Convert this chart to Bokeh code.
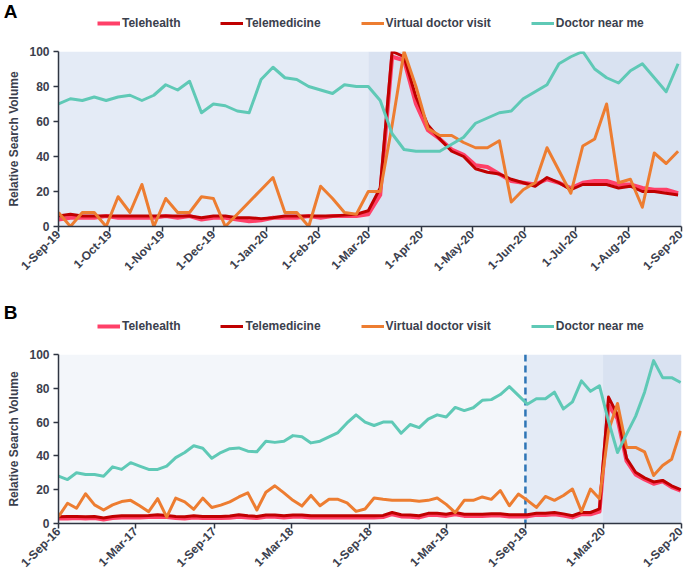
import pandas as pd
from math import pi
from bokeh.plotting import figure
from bokeh.models import (BoxAnnotation, Span, Legend, LegendItem,
                          DatetimeTickFormatter, MonthsTicker, FixedTicker, Range1d, LinearAxis)
from bokeh.layouts import column
from bokeh.embed import file_html
from bokeh.resources import INLINE

# ---------------- data ----------------
series_names = ["Telehealth", "Telemedicine", "Virtual doctor visit", "Doctor near me"]

# Panel A: weekly, from 1-Sep-19
a_start, a_weeks = "2019-09-01", 53
a_telehealth = [4, 5, 5, 5, 6, 5, 5, 5, 5, 6,
                5, 6, 4, 5, 5, 4, 3, 3.5, 5, 5,
                5, 6, 5, 6, 6, 6, 7, 18, 97, 95,
                70, 55, 50, 44, 41, 35, 34, 30, 26, 25,
                24, 27, 25, 22, 25, 26, 26, 24, 24, 22,
                21, 21, 19]
a_telemedicine = [6, 7, 6, 6, 6, 6, 6, 6, 6, 6,
                  6, 6, 5, 6, 6, 5, 5, 4.5, 5, 6,
                  6, 6, 6, 6, 6.5, 7, 9, 22, 100, 97,
                  74, 58, 50, 43, 40, 33, 31, 30, 27, 25,
                  23, 28, 25, 21, 24, 24, 24, 22, 23, 20,
                  20, 19, 18]
a_virtual = [8, 0, 8, 8, 0, 17, 8, 24, 0, 16,
             8, 8, 17, 16, 0, 7, 14, 21, 28, 8,
             8, 0, 23, 16, 8, 7, 20, 20, 58, 100,
             80, 56, 52, 52, 48, 45, 45, 49, 14, 21,
             25, 45, 32, 19, 46, 50, 70, 25, 27, 11,
             42, 36, 43]
a_doctor = [70, 73, 72, 74, 72, 74, 75, 72, 75, 81,
            78, 83, 65, 70, 69, 66, 65, 84, 91, 85,
            84, 80, 78, 76, 81, 80, 80, 72, 53, 44,
            43, 43, 43, 47, 51, 59, 62, 65, 66, 73,
            77, 81, 93, 97, 100, 90, 85, 82, 89, 93,
            85, 77, 93]

# Panel B: 70 evenly spaced samples, 1-Sep-16 .. end Aug-20
b_first, b_last, b_count = "2016-09-01", "2020-08-30", 70
b_telehealth = [3, 3, 3.2, 3, 3.2, 2.3, 3.2, 3.6, 3.6, 3.6,
                3.8, 4, 3.8, 3.2, 3, 3.6, 3.2, 3.2, 3.2, 3.4,
                4, 3.6, 3.2, 4, 4, 3.6, 4, 4, 3.6, 3.6,
                3.6, 3.6, 3.6, 3.6, 3.6, 3.6, 3.8, 5.5, 4.2, 4,
                3.6, 5, 5, 4.5, 5.5, 4.5, 4.5, 4.5, 4.7, 4.7,
                4.2, 4.2, 4.2, 5.1, 5.1, 5.5, 4.7, 3.6, 5.5, 5.5,
                7, 70, 62, 37, 29, 26, 23.5, 25, 21.5, 19.5]
b_telemedicine = [4, 4.2, 4.2, 4, 4.2, 3.3, 4.2, 4.6, 4.6, 4.6,
                  4.8, 5.2, 4.8, 4.2, 4, 4.6, 4.2, 4.2, 4.2, 4.4,
                  5.2, 4.6, 4.2, 5, 5, 4.6, 5, 5, 4.6, 4.6,
                  4.6, 4.6, 4.6, 4.6, 4.6, 4.6, 4.8, 6.5, 5.2, 5,
                  4.6, 6, 6, 5.5, 6.5, 5.5, 5.5, 5.5, 5.7, 5.7,
                  5.2, 5.2, 5.2, 6.1, 6.1, 6.5, 5.7, 4.6, 6.5, 6.5,
                  8.6, 74.8, 64.3, 38.6, 30.3, 27, 24.6, 25.5, 22.3, 20]
b_virtual = [4, 12, 9, 17.6, 11, 8, 11, 13, 13.7, 10.5,
             7, 14.7, 3.8, 15, 12.8, 8.4, 15, 9.5, 10.9, 12.8,
             15.7, 18.1, 8, 18.5, 22.3, 18.1, 13.7, 10.3, 16.6, 10.5,
             14.3, 14.3, 12.2, 7.2, 8.6, 15.1, 14.3, 13.7, 13.7, 13.7,
             13.2, 13.7, 15.1, 11.3, 6.5, 13.7, 13.7, 15.7, 14.3, 19.5,
             10.5, 17.4, 13.7, 9.5, 16, 13.7, 16.6, 20.4, 7.1, 20.4,
             14.7, 55, 71, 45, 45, 42.4, 28.4, 34.3, 38, 54.8]
b_doctor = [28, 26, 30, 29, 29, 28, 33.5, 32, 36, 34,
            32, 32, 34, 39, 42, 46, 44.5, 38.6, 42, 44.3,
            44.7, 42.8, 42.4, 48.7, 48, 48.7, 52, 51.3, 47.7, 48.7,
            51.3, 53.8, 59.5, 64.3, 60, 58, 60, 60, 53.4, 58.6,
            56.7, 61.8, 64.3, 63, 68.7, 66.8, 68.5, 72.9, 73.3, 76.3,
            81, 75.8, 70.6, 73.8, 73.8, 77.7, 67.8, 72, 84.4, 78.2,
            81.5, 60.5, 42, 52.9, 63.4, 77.7, 96.4, 86.3, 86.3, 83.4]

# period boundaries (shaded phases)
a_phases = ["2019-09-01", "2020-03-01", "2020-09-01"]
b_phases = ["2016-09-01", "2019-09-01", "2020-03-01", "2020-09-01"]
b_dashed_at = "2019-09-01"

# ---------------- style ----------------
FONT = "Liberation Sans"
TXT = "#3b404d"
AXIS = "#2f3542"
colors = ["#ff4068", "#c00000", "#ed7d31", "#5fc9b6"]
widths = [4, 3, 3, 3]
phase_colors_a = ["#e4ebf6", "#d9e2f1"]
phase_colors_b = ["#f3f6fa", "#e4ebf6", "#d9e2f1"]
W = 685
FRAME_LEFT = 58


def ms(d):
    return pd.Timestamp(d).value / 1e6


def header(letter, height, letter_mid, legend_center, dates, series):
    """Strip above a panel holding the panel letter and the legend."""
    h = figure(width=W, height=height, x_range=Range1d(0, W), y_range=Range1d(0, height),
               x_axis_location=None, y_axis_location=None,
               output_backend="svg", toolbar_location=None,
               min_border_left=FRAME_LEFT, min_border_right=4, min_border_top=0,
               min_border_bottom=0)
    h.grid.visible = False
    h.outline_line_color = None
    h.background_fill_color = "white"
    h.border_fill_color = "white"
    # legend renderers reuse the panel's series; their dates fall outside this strip's range
    rs = [h.line(dates, vals, line_color=c, line_width=w)
          for vals, c, w in zip(series, colors, widths)]
    items = [LegendItem(label=n, renderers=[r]) for n, r in zip(series_names, rs)]
    leg = Legend(items=items, orientation="horizontal",
                 location=(97 - FRAME_LEFT, height - legend_center - 8),
                 spacing=40, glyph_width=23, glyph_height=12, label_standoff=2,
                 padding=0, margin=0, background_fill_alpha=0, border_line_color=None,
                 label_text_font=FONT, label_text_font_style="bold",
                 label_text_font_size="12px", label_text_color=TXT,
                 label_height=12)
    h.add_layout(leg)
    # panel letter, set in the left margin as the single label of a bare axis
    tick = height - letter_mid
    ax = LinearAxis(ticker=FixedTicker(ticks=[tick]),
                    major_label_overrides={tick: letter},
                    axis_line_color=None, major_tick_line_color=None,
                    minor_tick_line_color=None, major_tick_out=0, major_tick_in=0,
                    minor_tick_out=0, minor_tick_in=0,
                    major_label_text_font=FONT, major_label_text_font_style="bold",
                    major_label_text_font_size="19px", major_label_text_color="black",
                    major_label_standoff=FRAME_LEFT - 17)
    h.add_layout(ax, "left")
    return h


def panel(dates, series, phases, phase_colors, months, frame_h, bottom, dashed=None):
    top = 8
    p = figure(width=W, height=top + frame_h + bottom, x_axis_type="datetime",
               x_range=Range1d(ms(phases[0]), ms(phases[-1])),
               y_range=Range1d(0, 100), output_backend="svg",
               toolbar_location=None, min_border_left=FRAME_LEFT, min_border_right=4,
               min_border_top=top, min_border_bottom=bottom)
    p.outline_line_color = None
    p.grid.visible = False
    p.background_fill_color = "white"
    p.border_fill_color = "white"

    for (l, r), c in zip(zip(phases[:-1], phases[1:]), phase_colors):
        p.add_layout(BoxAnnotation(left=ms(l), right=ms(r), fill_color=c,
                                   fill_alpha=1, line_color=None, level="underlay"))
    if dashed is not None:
        p.add_layout(Span(location=ms(dashed), dimension="height",
                          line_color="#2e75b6", line_width=2.5,
                          line_dash="7 4", level="underlay"))

    for vals, c, w in zip(series, colors, widths):
        p.line(dates, vals, line_color=c, line_width=w, line_join="round")

    fmt = "%-d-%b-%y"
    p.xaxis.ticker = MonthsTicker(months=months)
    p.xaxis.formatter = DatetimeTickFormatter(days=fmt, months=fmt, years=fmt,
                                              hours=fmt, minutes=fmt, seconds=fmt)
    p.xaxis.major_label_orientation = pi / 4
    p.yaxis.ticker = FixedTicker(ticks=[0, 20, 40, 60, 80, 100])
    p.yaxis.axis_label = "Relative Search Volume"
    for ax in (p.xaxis, p.yaxis):
        ax.axis_line_color = AXIS
        ax.axis_line_width = 1.5
        ax.major_tick_line_color = AXIS
        ax.major_tick_line_width = 1.5
        ax.major_tick_out = 5
        ax.major_tick_in = 0
        ax.minor_tick_line_color = None
        ax.major_label_text_font = FONT
        ax.major_label_text_font_style = "bold"
        ax.major_label_text_font_size = "12px"
        ax.major_label_text_color = TXT
        ax.axis_label_text_font = FONT
        ax.axis_label_text_font_style = "bold"
        ax.axis_label_text_font_size = "12px"
        ax.axis_label_text_color = TXT
    p.yaxis.axis_label_standoff = 5
    p.yaxis.major_label_standoff = 4
    p.xaxis.major_label_standoff = 1
    return p


a_dates = pd.date_range(a_start, periods=a_weeks, freq="7D")
b_dates = pd.date_range(b_first, b_last, periods=b_count)
a_series = [a_telehealth, a_telemedicine, a_virtual, a_doctor]
b_series = [b_telehealth, b_telemedicine, b_virtual, b_doctor]

ha = header("A", 43, 11, 22, a_dates, a_series)
pa = panel(a_dates, a_series, a_phases, phase_colors_a, list(range(12)), 175, 64)
hb = header("B", 56, 22, 35, b_dates, b_series)
pb = panel(b_dates, b_series, b_phases, phase_colors_b, [2, 8], 169, 56, dashed=b_dashed_at)

layout = column(ha, pa, hb, pb, spacing=0)
open("out.html", "w").write(file_html(layout, INLINE))
